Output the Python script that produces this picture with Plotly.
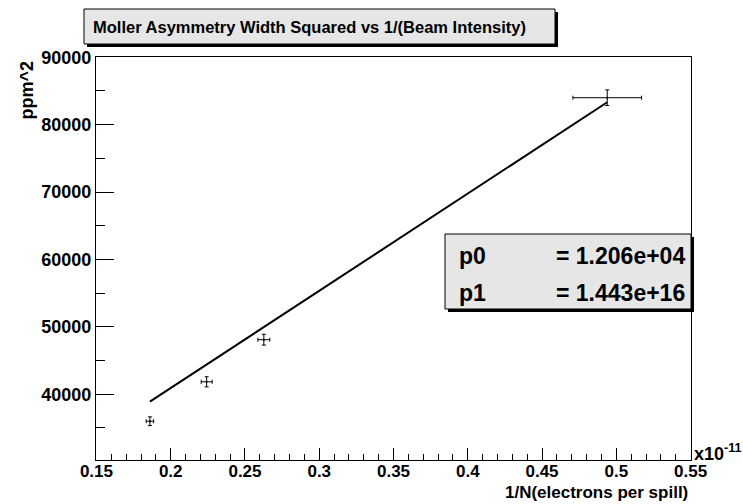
import numpy as np
import plotly.graph_objects as go

# Measurements: 1/N (in units of 1e-11) vs squared asymmetry width (ppm^2)
inv_intensity = [0.186, 0.2242, 0.2627, 0.4939]
width_sq = [36000, 41850, 48100, 84000]
inv_intensity_err = [0.0025, 0.0037, 0.0040, 0.0231]
width_sq_err = [650, 750, 800, 1160]

# Linear fit parameters (pol1): y = p0 + p1 * x, x in electrons^-1
fit_names = ["p0", "p1"]
fit_values = [1.206e4, 1.443e16]
x_scale = 1e-11

x_ticks = [0.15, 0.2, 0.25, 0.3, 0.35, 0.4, 0.45, 0.5, 0.55]
x_tick_text = ["0.15", "0.2", "0.25", "0.3", "0.35", "0.4", "0.45", "0.5", "0.55"]
y_ticks = [40000, 50000, 60000, 70000, 80000, 90000]
y_tick_text = ["40000", "50000", "60000", "70000", "80000", "90000"]

title_text = "Moller Asymmetry Width Squared vs 1/(Beam Intensity)"
x_title = "1/N(electrons per spill)"
y_title = "ppm^2"

W, H = 743, 504
L, R, T, B = 96, 52, 57, 44
FONT = "Liberation Sans, Arial, Helvetica, sans-serif"


def px(x):
    return (x - L) / (W - L - R)


def py(y):
    return (H - B - y) / (H - T - B)


def bold(s):
    return "<b>%s</b>" % s


fit_x = np.linspace(min(inv_intensity), max(inv_intensity), 50)
fit_y = fit_values[0] + fit_values[1] * fit_x * x_scale

fig = go.Figure()
fig.add_trace(go.Scatter(
    x=fit_x, y=fit_y, mode="lines",
    line=dict(color="black", width=2), hoverinfo="skip", showlegend=False,
))
fig.add_trace(go.Scatter(
    x=inv_intensity, y=width_sq, mode="markers",
    marker=dict(color="black", size=2),
    error_x=dict(type="data", array=inv_intensity_err, color="black", thickness=1, width=2),
    error_y=dict(type="data", array=width_sq_err, color="black", thickness=1, width=2),
    showlegend=False,
))

shapes = []
# title box with drop shadow
shapes.append(dict(type="rect", xref="paper", yref="paper",
                   x0=px(87), x1=px(558), y0=py(47), y1=py(12),
                   fillcolor="black", line=dict(width=0), layer="above"))
shapes.append(dict(type="rect", xref="paper", yref="paper",
                   x0=px(84), x1=px(555), y0=py(44), y1=py(9),
                   fillcolor="#e6e6e6", line=dict(color="black", width=1), layer="above"))
# fit parameter box with drop shadow
shapes.append(dict(type="rect", xref="paper", yref="paper",
                   x0=px(448), x1=px(694), y0=py(312), y1=py(237),
                   fillcolor="black", line=dict(width=0), layer="above"))
shapes.append(dict(type="rect", xref="paper", yref="paper",
                   x0=px(445), x1=px(691), y0=py(309), y1=py(234),
                   fillcolor="#e6e6e6", line=dict(color="black", width=1), layer="above"))

annotations = [
    dict(text=bold(title_text), xref="paper", yref="paper", x=px(91), y=py(27),
         xanchor="left", yanchor="middle", showarrow=False,
         font=dict(family=FONT, size=16.5, color="black")),
    dict(text=bold(y_title), xref="paper", yref="paper", x=px(26), y=py(59),
         xanchor="center", yanchor="top", textangle=-90, showarrow=False,
         font=dict(family=FONT, size=18, color="black")),
    dict(text=bold(x_title), xref="paper", yref="paper",
         x=px(690), y=py(504), xanchor="right", yanchor="bottom", showarrow=False,
         font=dict(family=FONT, size=17, color="black")),
    dict(text=bold("x10<sup>-11</sup>"), xref="paper", yref="paper",
         x=px(692), y=py(452), xanchor="left", yanchor="middle", showarrow=False,
         font=dict(family=FONT, size=18, color="black")),
]

row_y = [256, 293]
for name, val, yy in zip(fit_names, fit_values, row_y):
    annotations.append(dict(text=bold(name), xref="paper", yref="paper", x=px(457), y=py(yy),
                            xanchor="left", yanchor="middle", showarrow=False,
                            font=dict(family=FONT, size=23, color="black")))
    annotations.append(dict(text=bold("= %.3e" % val), xref="paper", yref="paper", x=px(687), y=py(yy),
                            xanchor="right", yanchor="middle", showarrow=False,
                            font=dict(family=FONT, size=23, color="black")))

axis_common = dict(
    showgrid=False, zeroline=False, showline=True, linecolor="black", linewidth=1,
    mirror=True, ticks="inside", tickcolor="black", tickwidth=1,
)

fig.update_layout(
    width=W, height=H,
    margin=dict(l=L, r=R, t=T, b=B),
    paper_bgcolor="white", plot_bgcolor="white",
    xaxis=dict(range=[0.1497, 0.5503], tickvals=x_ticks,
               ticktext=[bold(t) for t in x_tick_text], ticklen=12,
               tickfont=dict(family=FONT, size=17, color="black"),
               ticklabelstandoff=-4,
               minor=dict(dtick=0.01, tick0=0.15, ticks="inside", ticklen=6,
                          tickcolor="black", tickwidth=1),
               **axis_common),
    yaxis=dict(range=[30250, 90040], tickvals=y_ticks,
               ticktext=[bold(t) for t in y_tick_text], ticklen=18,
               tickfont=dict(family=FONT, size=18, color="black"),
               minor=dict(dtick=5000, tick0=30000, ticks="inside", ticklen=9,
                          tickcolor="black", tickwidth=1),
               **axis_common),
    shapes=shapes, annotations=annotations,
    showlegend=False,
)

fig.write_html("out.html")
